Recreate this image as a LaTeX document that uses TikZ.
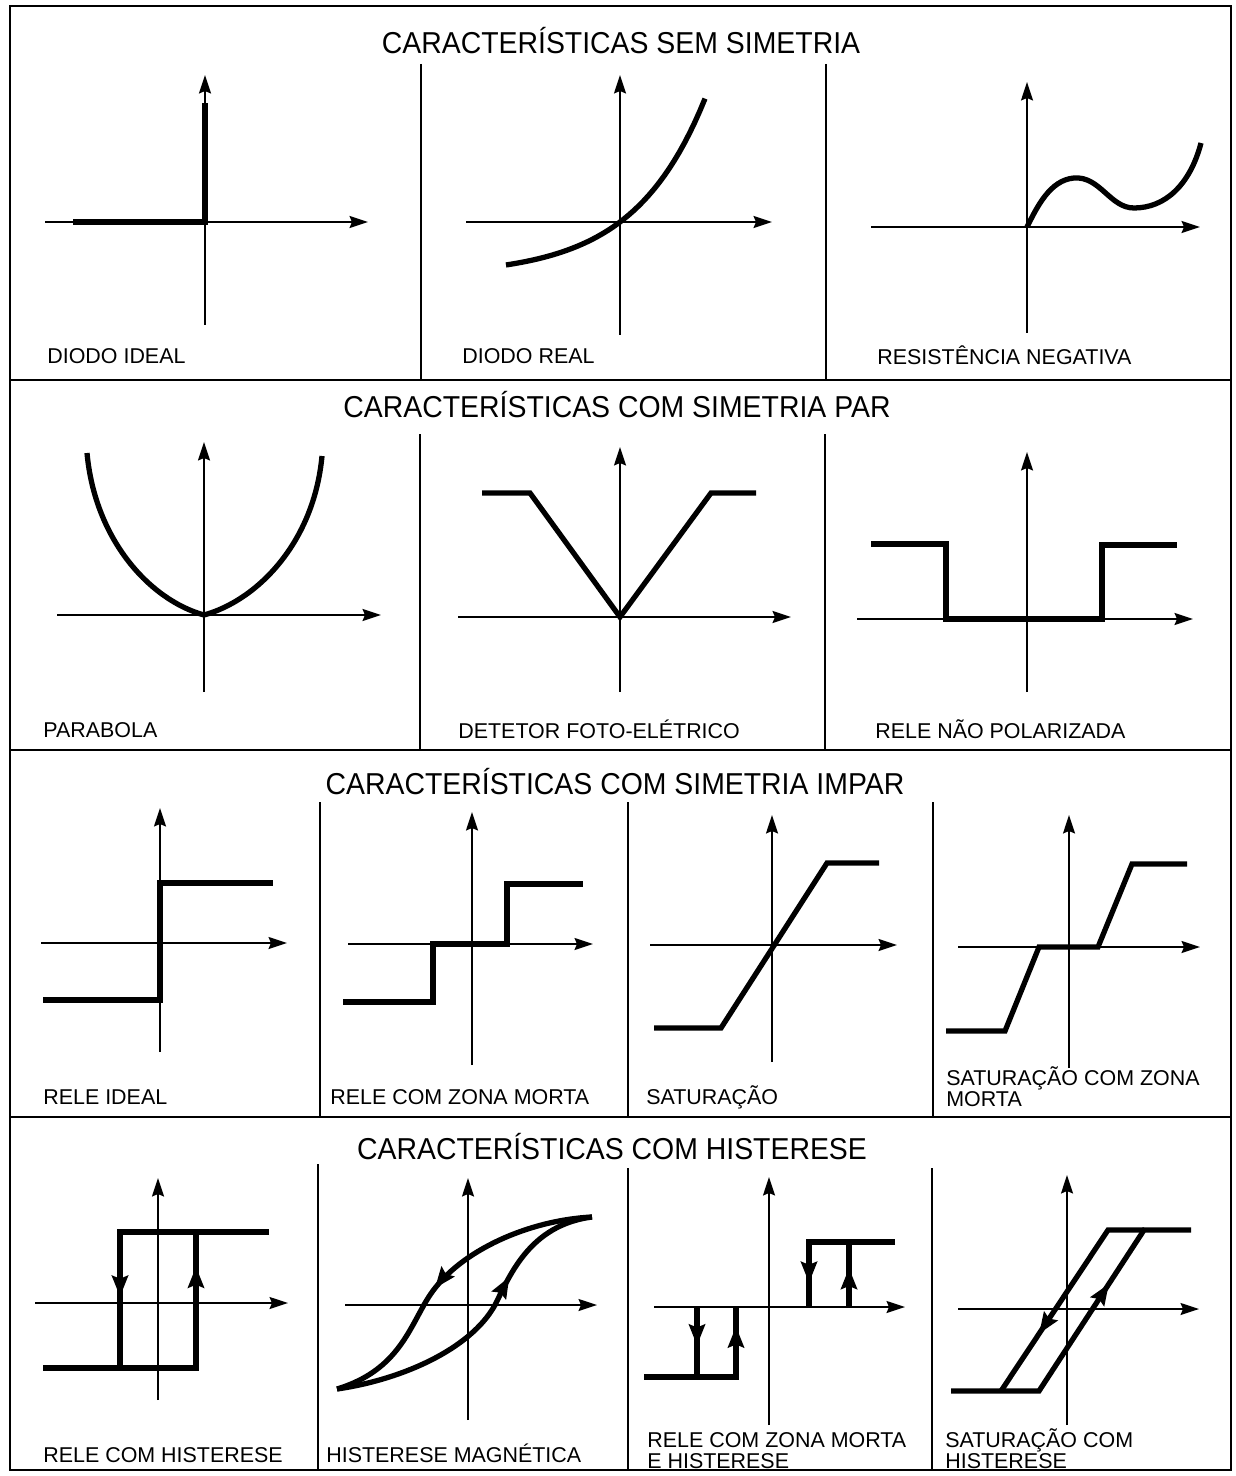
\documentclass[tikz,border=0pt]{standalone}
\usepackage{fontspec}
\setmainfont{Liberation Sans}
\newfontfamily\ttlfam[FakeStretch=0.94]{Liberation Sans}
\usepackage{tikz}
\usetikzlibrary{arrows.meta,decorations.markings}
\newcommand{\ttlfont}{\ttlfam\fontsize{17.2}{20}\selectfont}
\newcommand{\lblfont}{\fontsize{12.2}{12}\selectfont}

\begin{document}
\begin{tikzpicture}[
    x=0.02cm, y=-0.02cm,
    frm/.style={line width=0.9pt},
    ax/.style={line width=0.9pt, -{Stealth[length=0.37cm,width=0.24cm,inset=0.05cm]}},
    crv/.style={line width=3pt, line join=miter},
    harr/.style={postaction={decorate}, decoration={markings,
        mark=at position #1 with {\arrow{Stealth[length=0.42cm,width=0.32cm,inset=0.06cm]}}}},
    ttl/.style={font=\ttlfont, inner sep=0pt, text height=12.3pt, text depth=0pt},
    lbl/.style={font=\lblfont, anchor=west, inner sep=0pt, text height=8.7pt, text depth=0pt},
    lbltwo/.style={font=\lblfont, anchor=north west, inner sep=0pt, align=left},
  ]
  \useasboundingbox (0,0) rectangle (1236,1476);

  \draw[frm] (10,6) rectangle (1231,1470);
  \draw[frm] (10,380) -- (1231,380);
  \draw[frm] (10,750) -- (1231,750);
  \draw[frm] (10,1117) -- (1231,1117);
  \draw[frm] (421,64) -- (421,380);
  \draw[frm] (826,64) -- (826,380);
  \draw[frm] (420,434) -- (420,750);
  \draw[frm] (825,434) -- (825,750);
  \draw[frm] (320,802) -- (320,1117);
  \draw[frm] (628,802) -- (628,1117);
  \draw[frm] (933,802) -- (933,1117);
  \draw[frm] (318,1164) -- (318,1470);
  \draw[frm] (628,1168) -- (628,1470);
  \draw[frm] (932,1168) -- (932,1470);

  \node[ttl] (ttlSem)   at (621,43)   {CARACTERÍSTICAS SEM SIMETRIA};
  \node[ttl] (ttlPar)   at (617,407)  {CARACTERÍSTICAS COM SIMETRIA PAR};
  \node[ttl] (ttlImpar) at (615,784)  {CARACTERÍSTICAS COM SIMETRIA IMPAR};
  \node[ttl] (ttlHist)  at (612,1149) {CARACTERÍSTICAS COM HISTERESE};

  % sem simetria
  \draw[ax] (45,222) -- (368,222);
  \draw[ax] (205,325) -- (205,75);
  \draw[crv] (73,222) -- (205,222) -- (205,103);
  \node[lbl] (lDiodoIdeal) at (47,356) {DIODO IDEAL};

  \draw[ax] (466,222) -- (772,222);
  \draw[ax] (620,335) -- (620,75);
  \draw[crv] plot[domain=506:705, samples=40] (\x, {222-53.9*(exp(0.014*(\x-620))-1)});
  \node[lbl] (lDiodoReal) at (462,356) {DIODO REAL};

  \draw[ax] (871,227) -- (1200,227);
  \draw[ax] (1027,333) -- (1027,82);
  \draw[crv] (1027,227) .. controls (1037,207) and (1050,180) .. (1074,178)
    .. controls (1100,176) and (1110,208) .. (1134,208)
    .. controls (1165,208) and (1190,185) .. (1201,143);
  \node[lbl] (lResNeg) at (877,357) {RESISTÊNCIA NEGATIVA};

  % simetria par
  \draw[ax] (57,615) -- (381,615);
  \draw[ax] (204,692) -- (204,442);
  \draw[crv] (87,453) .. controls (95,540) and (150,600) .. (204,615)
    .. controls (258,600) and (314,542) .. (322,456);
  \node[lbl] (lParabola) at (43,730) {PARABOLA};

  \draw[ax] (458,617) -- (791,617);
  \draw[ax] (620,692) -- (620,447);
  \draw[crv] (482,493) -- (530,493) -- (620,617) -- (711,493) -- (756,493);
  \node[lbl] (lDetetor) at (458,731) {DETETOR FOTO-ELÉTRICO};

  \draw[ax] (857,619) -- (1193,619);
  \draw[ax] (1027,692) -- (1027,452);
  \draw[crv] (871,544) -- (946,544) -- (946,619) -- (1102,619) -- (1102,545) -- (1177,545);
  \node[lbl] (lReleNP) at (875,731) {RELE NÃO POLARIZADA};

  % simetria impar
  \draw[ax] (41,943) -- (287,943);
  \draw[ax] (160,1052) -- (160,808);
  \draw[crv] (43,1000) -- (160,1000) -- (160,883) -- (273,883);
  \node[lbl] (lReleIdeal) at (43,1097) {RELE IDEAL};

  \draw[ax] (348,944) -- (593,944);
  \draw[ax] (472,1065) -- (472,812);
  \draw[crv] (343,1002) -- (433,1002) -- (433,944) -- (507,944) -- (507,884) -- (583,884);
  \node[lbl] (lReleZM) at (330,1097) {RELE COM ZONA MORTA};

  \draw[ax] (650,945) -- (897,945);
  \draw[ax] (772,1062) -- (772,815);
  \draw[crv] (654,1028) -- (721,1028) -- (827,863) -- (879,863);
  \node[lbl] (lSat) at (646,1097) {SATURAÇÃO};

  \draw[ax] (958,947) -- (1200,947);
  \draw[ax] (1069,1068) -- (1069,815);
  \draw[crv] (946,1031) -- (1005,1031) -- (1039,947) -- (1098,947) -- (1132,864) -- (1187,864);
  \node[lbltwo] (lSatZM) at (946,1066) {SATURAÇÃO COM ZONA\\MORTA};

  % histerese
  \draw[ax] (35,1303) -- (288,1303);
  \draw[ax] (158,1400) -- (158,1178);
  \draw[crv, harr=0.88] (43,1368) -- (196,1368) -- (196,1232);
  \draw[crv, harr=0.75] (269,1232) -- (120,1232) -- (120,1368);
  \node[lbl] (lReleHist) at (43,1455) {RELE COM HISTERESE};

  \draw[ax] (345,1305) -- (597,1305);
  \draw[ax] (468,1420) -- (468,1178);
  \draw[crv, harr=0.55] (592,1217) .. controls (530,1220) and (460,1250) .. (430,1295)
    .. controls (410,1325) and (400,1370) .. (337,1389);
  \draw[crv, harr=0.67] (337,1389) .. controls (400,1380) and (470,1350) .. (495,1305)
    .. controls (510,1275) and (530,1225) .. (592,1217);
  \node[lbl] (lHistMag) at (326,1455) {HISTERESE MAGNÉTICA};

  \draw[ax] (654,1307) -- (905,1307);
  \draw[ax] (769,1425) -- (769,1177);
  \draw[crv, harr=0.55] (697,1307) -- (697,1377);
  \draw[crv, harr=0.88] (644,1377) -- (736,1377) -- (736,1307);
  \draw[crv, harr=0.84] (895,1242) -- (809,1242) -- (809,1307);
  \draw[crv, harr=0.6] (849,1307) -- (849,1242);
  \node[lbltwo] (lReleZMH) at (647,1432) {RELE COM ZONA MORTA\\E HISTERESE};

  \draw[ax] (958,1309) -- (1199,1309);
  \draw[ax] (1067,1425) -- (1067,1175);
  \draw[crv, harr=0.66] (951,1391) -- (1039,1391) -- (1144,1230) -- (1191,1230);
  \draw[crv, harr=0.7] (1144,1230) -- (1108,1230) -- (1001,1391);
  \node[lbltwo] (lSatHist) at (945,1428) {SATURAÇÃO COM\\HISTERESE};
\end{tikzpicture}
\end{document}
